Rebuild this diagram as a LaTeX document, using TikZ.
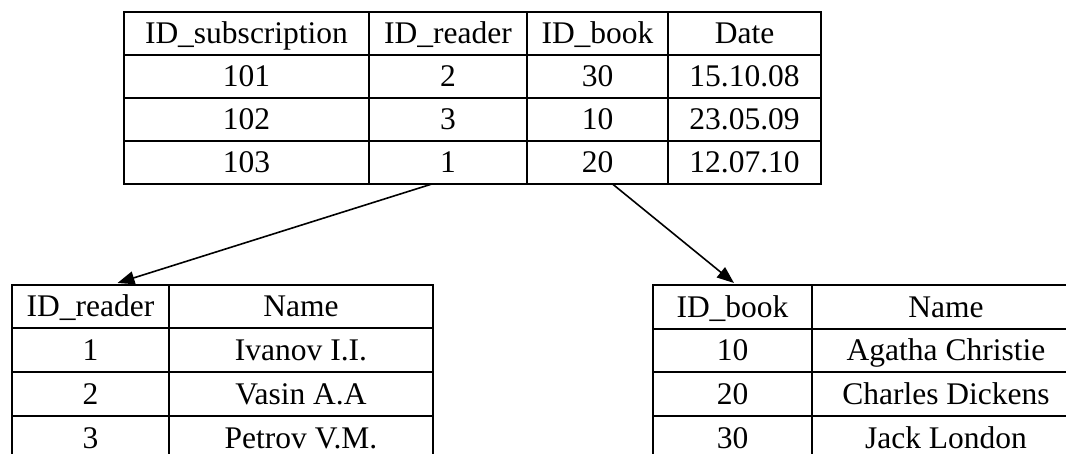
\documentclass[tikz,border=0pt]{standalone}
\usepackage{fontspec}
\setmainfont{Liberation Serif}
\usetikzlibrary{arrows.meta}

% one table cell: name, left, top, right, bottom, text
\newcommand\tcell[6]{%
  \node[cell, minimum width={#4-#2}, minimum height={#5-#3}]
    (#1) at ({(#2+#4)/2},{(#3+#5)/2}) {#6};}

\tikzset{
  cell/.style={draw, line width=1.9pt, inner sep=0pt, outer sep=0pt,
    text height=21pt, text depth=0pt,
    font=\fontsize{31.5}{36}\selectfont},
  link/.style={line width=1.6pt, -{Triangle[length=17pt,width=13pt]}},
}

\begin{document}
\begin{tikzpicture}[x=1pt,y=-1pt]
\useasboundingbox (0,0) rectangle (1066,454);
\clip (0,0) rectangle (1066,454);
\fill[white] (0,0) rectangle (1066,454);

% subscription table
\tcell{t-1-1}{124}{12}{369}{55}{ID\_subscription}
\tcell{t-1-2}{369}{12}{527}{55}{ID\_reader}
\tcell{t-1-3}{527}{12}{668}{55}{ID\_book}
\tcell{t-1-4}{668}{12}{821}{55}{Date}
\tcell{t-2-1}{124}{55}{369}{98}{101}
\tcell{t-2-2}{369}{55}{527}{98}{2}
\tcell{t-2-3}{527}{55}{668}{98}{30}
\tcell{t-2-4}{668}{55}{821}{98}{15.10.08}
\tcell{t-3-1}{124}{98}{369}{141}{102}
\tcell{t-3-2}{369}{98}{527}{141}{3}
\tcell{t-3-3}{527}{98}{668}{141}{10}
\tcell{t-3-4}{668}{98}{821}{141}{23.05.09}
\tcell{t-4-1}{124}{141}{369}{184}{103}
\tcell{t-4-2}{369}{141}{527}{184}{1}
\tcell{t-4-3}{527}{141}{668}{184}{20}
\tcell{t-4-4}{668}{141}{821}{184}{12.07.10}

% readers table
\tcell{r-1-1}{12}{285}{169}{328}{ID\_reader}
\tcell{r-1-2}{169}{285}{433}{328}{Name}
\tcell{r-2-1}{12}{328}{169}{372}{1}
\tcell{r-2-2}{169}{328}{433}{372}{Ivanov I.I.}
\tcell{r-3-1}{12}{372}{169}{416}{2}
\tcell{r-3-2}{169}{372}{433}{416}{Vasin A.A}
\tcell{r-4-1}{12}{416}{169}{460}{3}
\tcell{r-4-2}{169}{416}{433}{460}{Petrov V.M.}

% books table
\tcell{b-1-1}{653}{285}{812}{329}{ID\_book}
\tcell{b-1-2}{812}{285}{1080}{329}{Name}
\tcell{b-2-1}{653}{329}{812}{372}{10}
\tcell{b-2-2}{812}{329}{1080}{372}{Agatha Christie}
\tcell{b-3-1}{653}{372}{812}{416}{20}
\tcell{b-3-2}{812}{372}{1080}{416}{Charles Dickens}
\tcell{b-4-1}{653}{416}{812}{460}{30}
\tcell{b-4-2}{812}{416}{1080}{460}{Jack London}

% foreign keys
\draw[link] ([xshift=-16pt]t-4-2.south) -- ([xshift=27pt,yshift=2pt]r-1-1.north);
\draw[link] ([xshift=15pt]t-4-3.south) -- ([xshift=1.5pt,yshift=2pt]b-1-1.north);
\end{tikzpicture}
\end{document}
